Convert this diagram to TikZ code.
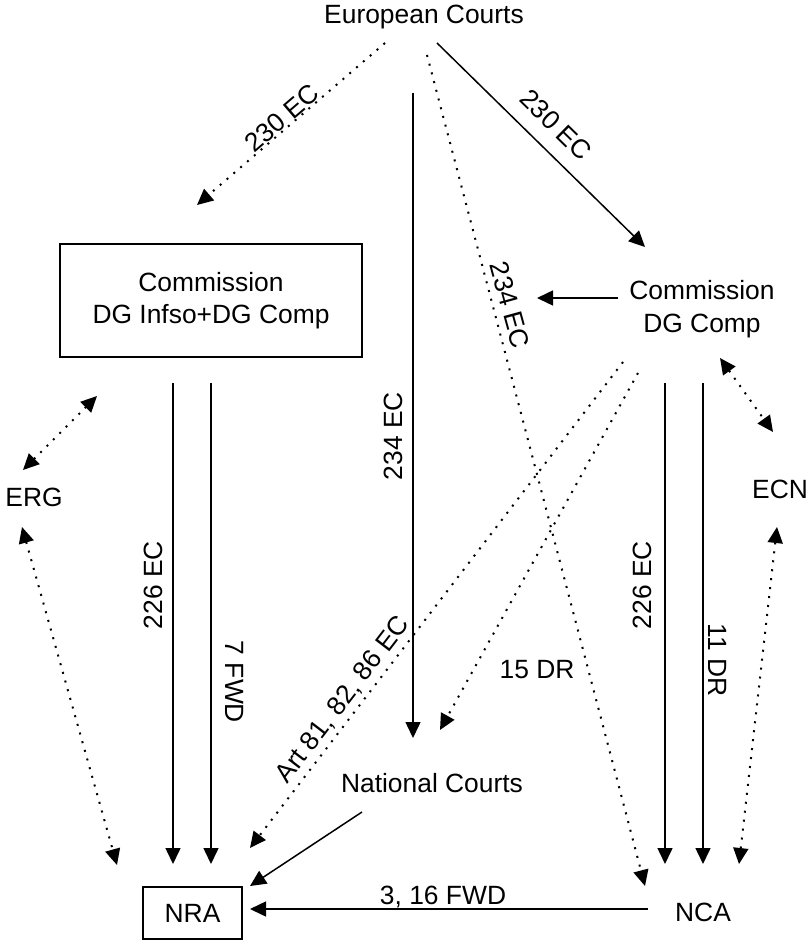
\documentclass[tikz,border=0pt]{standalone}
\usepackage{fontspec}
\setmainfont{Liberation Sans}
\usetikzlibrary{arrows.meta}
\begin{document}
\begin{tikzpicture}[x=1pt,y=-1pt,
  lbl/.style={font=\fontsize{26.4}{32.5}\selectfont, inner sep=0pt, align=center},
  boxed/.style={draw, line width=1.5pt},
  solidarr/.style={line width=1.5pt, -{Triangle[length=16pt,width=15pt]}},
  dotarr/.style={line width=2pt, dash pattern=on 2pt off 7pt, -{Triangle[length=16pt,width=15pt]}},
  dotdbl/.style={line width=2pt, dash pattern=on 2pt off 7pt, {Triangle[length=16pt,width=15pt]}-{Triangle[length=16pt,width=15pt]}}
]
\useasboundingbox (0,0) rectangle (808,941);

% nodes
\node[lbl] (eu) at (424,17) {European Courts};
\node[lbl, boxed, minimum width=302pt, minimum height=113pt] (cinf) at (211,300.5) {Commission\\DG Infso+DG Comp};
\node[lbl] (comp) at (702,309) {Commission\\DG Comp};
\node[lbl] (erg) at (34,497) {ERG};
\node[lbl] (ecn) at (780,489) {ECN};
\node[lbl] (natc) at (432,783) {National Courts};
\node[lbl, boxed, minimum width=99pt, minimum height=52pt] (nra) at (192.5,913) {NRA};
\node[lbl] (nca) at (703,912) {NCA};

% connector end points
\coordinate (euL) at (385,43);   \coordinate (cinfT) at (197,205);
\coordinate (euR) at (437,43);   \coordinate (compT) at (645,247);
\coordinate (euV) at (413,93);   \coordinate (natcT) at (413,738);
\coordinate (euD) at (427,55);   \coordinate (ncaD) at (645,886);
\coordinate (compW) at (618,298); \coordinate (compWt) at (537,298);
\coordinate (cinfB1) at (173,383); \coordinate (nraT1) at (173,864);
\coordinate (cinfB2) at (211,383); \coordinate (nraT2) at (211,864);
\coordinate (compB1) at (665,383); \coordinate (ncaT1) at (665,864);
\coordinate (compB2) at (703,383); \coordinate (ncaT2) at (703,864);
\coordinate (ergA) at (23,470);  \coordinate (cinfA) at (97,396);
\coordinate (ergB) at (22,527);  \coordinate (nraA) at (117,865);
\coordinate (compA) at (720,358); \coordinate (ecnA) at (773,432);
\coordinate (ecnB) at (777,527); \coordinate (ncaA) at (739,864);
\coordinate (compS1) at (623,362); \coordinate (nraS) at (250,848);
\coordinate (compS2) at (638,373); \coordinate (natcS) at (440,730);
\coordinate (natcF) at (362,812); \coordinate (nraF) at (250,886);
\coordinate (ncaW) at (648,909);  \coordinate (nraW) at (250,909);

% connectors
\draw[dotarr] (euL) -- (cinfT);
\draw[solidarr] (euR) -- (compT);
\draw[solidarr] (euV) -- (natcT);
\draw[dotarr] (euD) -- (ncaD);
\draw[solidarr] (compW) -- (compWt);
\draw[solidarr] (cinfB1) -- (nraT1);
\draw[solidarr] (cinfB2) -- (nraT2);
\draw[solidarr] (compB1) -- (ncaT1);
\draw[solidarr] (compB2) -- (ncaT2);
\draw[dotdbl] (ergA) -- (cinfA);
\draw[dotdbl] (ergB) -- (nraA);
\draw[dotdbl] (compA) -- (ecnA);
\draw[dotdbl] (ecnB) -- (ncaA);
\draw[dotarr] (compS1) -- (nraS);
\draw[dotarr] (compS2) -- (natcS);
\draw[solidarr] (natcF) -- (nraF);
\draw[solidarr] (ncaW) -- (nraW);

% labels
\node[lbl, rotate=40.7] (l230a) at (282,118) {230 EC};
\node[lbl, rotate=-44.4] (l230b) at (556,125) {230 EC};
\node[lbl, rotate=90] (l234a) at (393,436) {234 EC};
\node[lbl, rotate=-74.7] (l234b) at (510,305) {234 EC};
\node[lbl, rotate=90] (l226a) at (153,585) {226 EC};
\node[lbl, rotate=-90] (l7) at (235,682) {7 FWD};
\node[lbl, rotate=90] (l226b) at (642,585) {226 EC};
\node[lbl, rotate=-90] (l11) at (718,660) {11 DR};
\node[lbl, rotate=52.5] (lart) at (343,700) {Art 81, 82, 86 EC};
\node[lbl] (l15) at (537,670) {15 DR};
\node[lbl] (l316) at (443,897) {3, 16 FWD};
\end{tikzpicture}
\end{document}
